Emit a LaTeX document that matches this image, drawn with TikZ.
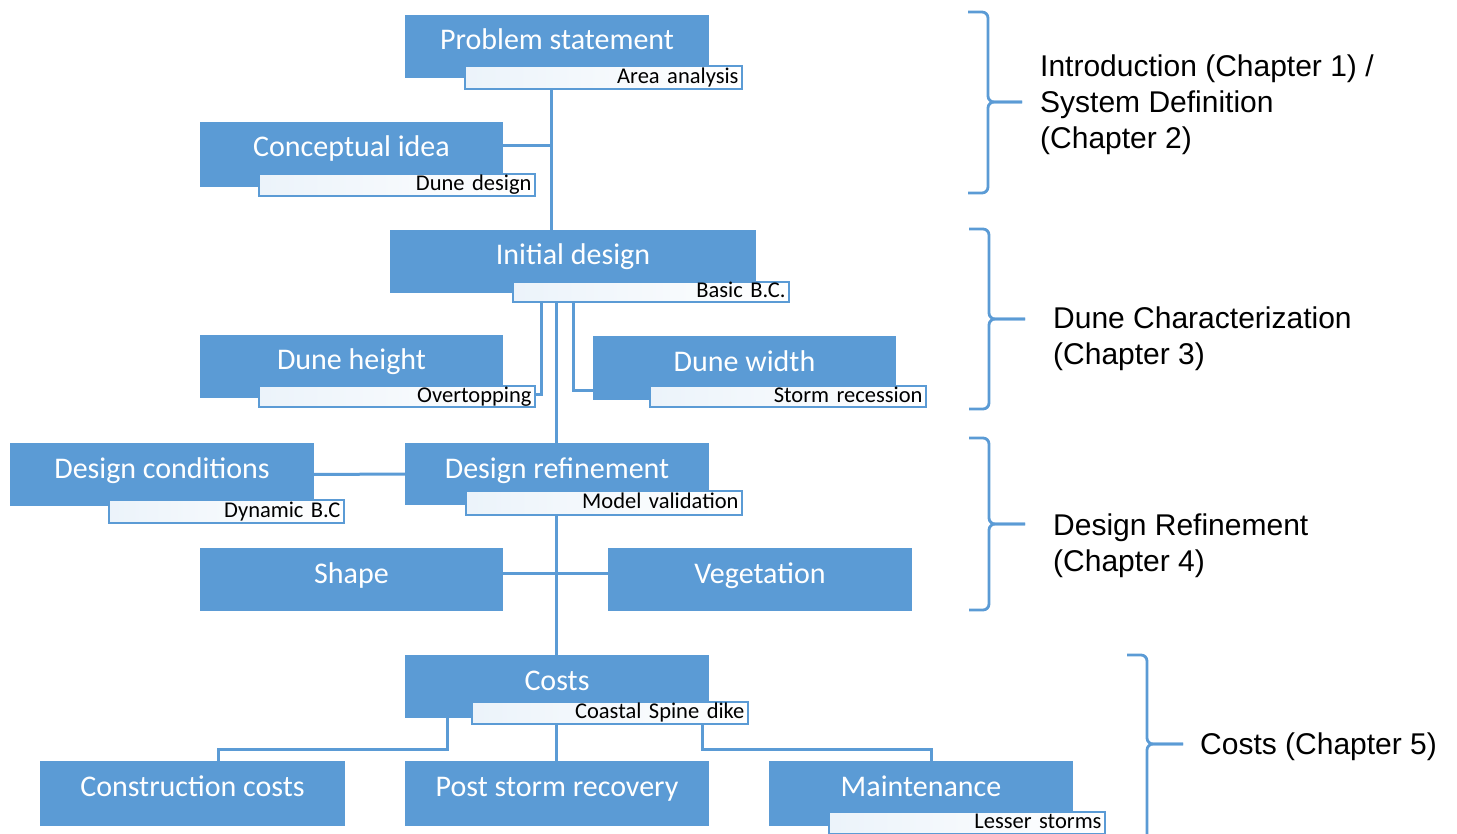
\documentclass[tikz,border=0pt]{standalone}
\usepackage{fontspec}
\setmainfont{Carlito}
\newfontfamily\arialf{Liberation Sans}
\usetikzlibrary{calc}
\definecolor{myblue}{HTML}{5B9BD5}
\newcommand\mkbox[6]{%
  \node[box, minimum width=#4pt, minimum height=#5pt] (#1) at (#2,#3) {};
  \node[btext] (#1-t) at ($(#1.north)+(0,28)$) {#6};}
\newcommand\mksub[6]{%
  \node[sub, text width=#4pt, minimum height=#5pt] (#1) at (#2,#3) {#6};}
\newcommand\brk[5]{%
  \draw[brace] (#1-20,#2) -- (#1,#2) -- (#1,#3) -- (#5,#3);
  \draw[brace] (#1-20,#4) -- (#1,#4) -- (#1,#3) -- (#5,#3);}
\begin{document}
\begin{tikzpicture}[x=1pt,y=-1pt,
  box/.style={fill=myblue, anchor=north west, inner sep=0pt, outer sep=0pt},
  btext/.style={text=white, font=\fontsize{30}{35}\selectfont, inner sep=0pt,
    text height=20pt, text depth=6pt},
  sub/.style={draw=myblue, line width=1.4pt, left color=myblue!12, right color=white,
    anchor=north west, inner xsep=3.5pt, inner ysep=0pt, outer sep=0pt, align=right,
    font=\fontsize{22.5}{25}\selectfont, text height=15pt, text depth=3.5pt},
  conn/.style={draw=myblue, line width=3pt},
  brace/.style={draw=myblue, line width=2.8pt, rounded corners=6pt},
  side/.style={font=\arialf\fontsize{30}{36}\selectfont, align=left, anchor=west, inner sep=0pt}
]
\useasboundingbox (0,0) rectangle (1457,834);
\path[clip] (0,0) rectangle (1457,834);

% boxes
\mkbox{ps}{405}{15}{304}{63}{Problem statement}
\mkbox{ci}{200}{122}{303}{65}{Conceptual idea}
\mkbox{id}{390}{230}{366}{63}{Initial design}
\mkbox{dh}{200}{335}{303}{63}{Dune height}
\mkbox{dw}{593}{336}{303}{64}{Dune width}
\mkbox{dc}{10}{443}{304}{63}{Design conditions}
\mkbox{dr}{405}{443}{304}{62}{Design refinement}
\mkbox{sh}{200}{548}{303}{63}{Shape}
\mkbox{ve}{608}{548}{304}{63}{Vegetation}
\mkbox{co}{405}{655}{304}{63}{Costs}
\mkbox{cc}{40}{761}{305}{65}{Construction costs}
\mkbox{pr}{405}{761}{304}{65}{Post storm recovery}
\mkbox{ma}{769}{761}{304}{65}{Maintenance}

% sub-labels
\mksub{ps-s}{465}{66}{270}{23}{Area analysis}
\mksub{ci-s}{259}{174}{269}{22}{Dune design}
\mksub{id-s}{513}{282}{269}{20}{Basic B.C.}
\mksub{dh-s}{259}{386}{269}{21}{Overtopping}
\mksub{dw-s}{650}{386}{269}{21}{Storm recession}
\mksub{dc-s}{109}{500}{228}{23}{Dynamic B.C}
\mksub{dr-s}{466}{491}{269}{24}{Model validation}
\mksub{co-s}{472}{702}{269}{22}{Coastal Spine dike}
\mksub{ma-s}{829}{812}{269}{22}{Lesser storms}

% connectors
\coordinate (j1) at (551,146);
\draw[conn] (ps-s.south -| j1) -- (id.north -| j1);
\draw[conn] (ci.east |- j1) -- (j1);
\coordinate (k1) at (541,394);
\draw[conn] (id-s.south -| k1) -- (k1) -- (dh-s.east |- k1);
\coordinate (k2) at (573,390);
\draw[conn] (id-s.south -| k2) -- (k2) -- (dw.west |- k2);
\coordinate (k3) at (556,573);
\draw[conn] (id-s.south -| k3) -- (dr.north -| k3);
\draw[conn] (dr-s.south -| k3) -- (co.north -| k3);
\draw[conn] (sh.east |- k3) -- (ve.west |- k3);
\draw[conn] (dc.east) -- (dr.west);
\coordinate (m1) at (447,749);
\coordinate (m3) at (218,749);
\coordinate (m2) at (702,749);
\coordinate (m4) at (931,749);
\draw[conn] (co.south -| m1) -- (m1) -- (m3) -- (cc.north -| m3);
\draw[conn] (co-s.south -| k3) -- (pr.north -| k3);
\draw[conn] (co-s.south -| m2) -- (m2) -- (m4) -- (ma.north -| m4);

% braces
\brk{988}{12}{102}{193}{1022}
\brk{989}{229}{319}{409}{1025}
\brk{989}{438}{524}{610}{1025}
\brk{1147}{655}{744}{860}{1183}

% side labels
\node[side] (l1) at (1040,105) {Introduction (Chapter 1) /\\System Definition\\(Chapter 2)};
\node[side] (l2) at (1053,339) {Dune Characterization\\(Chapter 3)};
\node[side] (l3) at (1053,546) {Design Refinement\\(Chapter 4)};
\node[side] (l4) at (1200,747) {Costs (Chapter 5)};
\end{tikzpicture}
\end{document}
